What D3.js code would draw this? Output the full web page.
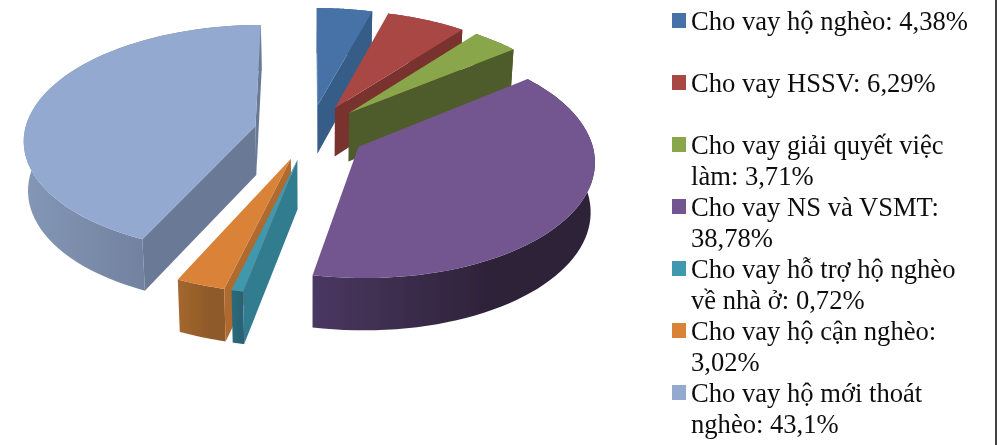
<!DOCTYPE html>
<html>
<head>
<meta charset="utf-8">
<script src="https://cdn.jsdelivr.net/npm/d3@7/dist/d3.min.js"></script>
<style>
  html, body { margin: 0; padding: 0; background: #fff; }
  svg { display: block; }
  .legend text { font-family: "Liberation Serif", serif; font-size: 26.6px; fill: #111; }
</style>
</head>
<body>
<div id="chart"></div>
<script>
const width = 1005;
const height = 445;

// percentages
const categories = ['Cho vay hộ nghèo', 'Cho vay HSSV', 'Cho vay giải quyết việc làm', 'Cho vay NS và VSMT',
  'Cho vay hỗ trợ hộ nghèo về nhà ở', 'Cho vay hộ cận nghèo', 'Cho vay hộ mới thoát nghèo'];
const values = [4.38, 6.29, 3.71, 38.78, 0.72, 3.02, 43.1];
const legendLines = [
  ['Cho vay hộ nghèo: 4,38%'],
  ['Cho vay HSSV: 6,29%'],
  ['Cho vay giải quyết việc', 'làm: 3,71%'],
  ['Cho vay NS và VSMT:', '38,78%'],
  ['Cho vay hỗ trợ hộ nghèo', 'về nhà ở: 0,72%'],
  ['Cho vay hộ cận nghèo:', '3,02%'],
  ['Cho vay hộ mới thoát', 'nghèo: 43,1%']
];
const topColors = ['#4672a8', '#a94644', '#89a64b', '#73568f', '#4198af', '#d98239', '#93a9d0'];
const faceColors = ['#355d87', '#7a302e', '#4e5c2a', '#45345a', '#327b8f', '#b06a2e', '#6b7a96'];
const wallLight = ['#355d87', '#7a302e', '#4e5c2a', '#4a3760', '#2c6b7c', '#a5672e', '#8497b6'];
const wallDark = ['#355d87', '#7a302e', '#4e5c2a', '#2d2238', '#2a6475', '#8f5a2a', '#6c7c99'];

const explode = 0.243;     // how far slices are pulled out, in radii
const perspective = 0.11;  // far side of the pie shrinks, near side grows
const depth = 49;
const lowerShrink = 0.985; // bottom face sits further from the eye

const svg = d3.select('#chart').append('svg')
  .attr('width', width)
  .attr('height', height);

const defs = svg.append('defs');
defs.append('filter').attr('id', 'soft')
  .append('feGaussianBlur').attr('stdDeviation', 0.4);

const x = d3.scaleLinear().domain([-1, 1]).range([310 - 231, 310 + 231]);
const y = d3.scaleLinear().domain([-1, 1]).range([132 + 113.5, 132 - 113.5]);

// ground plane -> screen, z = 1 is the far side of the pie
function project(gx, gz, lower) {
  const s = 1 / (1 + perspective * gz);
  const sx = lower ? gx * s * lowerShrink : gx * s;
  return [x(sx), y(gz * s) + (lower ? depth * (1 - 0.06 * gz) : 0)];
}

const pie = d3.pie().sort(null).value(d => d)(values);
const line = d3.line();
const order = [0, 1, 2, 6, 5, 4, 3];

const slices = svg.append('g').attr('class', 'slices').attr('filter', 'url(#soft)');

order.forEach(i => {
  const d = pie[i];
  const mid = (d.startAngle + d.endAngle) / 2;
  const ox = explode * Math.sin(mid);
  const oz = explode * Math.cos(mid);
  const at = (a, lower) => project(ox + Math.sin(a), oz + Math.cos(a), lower);
  const apex = lower => project(ox, oz, lower);
  const angles = d3.range(0, 61).map(k => d.startAngle + (d.endAngle - d.startAngle) * k / 60);

  const grad = defs.append('linearGradient').attr('id', `wall${i}`);
  grad.append('stop').attr('offset', 0).attr('stop-color', wallLight[i]);
  grad.append('stop').attr('offset', 0.65).attr('stop-color', wallDark[i]);
  grad.append('stop').attr('offset', 1).attr('stop-color', wallDark[i]);

  const g = slices.append('g');

  // outer wall
  g.append('path')
    .attr('d', line(angles.map(a => at(a, false)).concat(angles.slice().reverse().map(a => at(a, true)))) + 'Z')
    .attr('fill', `url(#wall${i})`);

  // a cut face shows only if its lower edge falls outside the slice top
  const a0 = apex(false);
  [[d.startAngle, d.endAngle], [d.endAngle, d.startAngle]].forEach(([edge, other]) => {
    const p = at(edge, false);
    const q = at(other, false);
    const inner = (p[0] - a0[0]) * (q[1] - a0[1]) - (p[1] - a0[1]) * (q[0] - a0[0]);
    const down = (p[0] - a0[0]) * depth;
    if (inner * down < 0) {
      g.append('path')
        .attr('d', line([a0, p, at(edge, true), apex(true)]) + 'Z')
        .attr('fill', faceColors[i]);
    }
  });

  // top
  g.append('path')
    .attr('d', line([a0].concat(angles.map(a => at(a, false)))) + 'Z')
    .attr('fill', topColors[i]);
});

// legend
const legend = svg.append('g').attr('class', 'legend').attr('filter', 'url(#soft)');
legendLines.forEach((lines, i) => {
  const item = legend.append('g').attr('transform', `translate(0,${30 + i * 62})`);
  item.append('rect')
    .attr('x', 672).attr('y', -17)
    .attr('width', 14).attr('height', 15)
    .attr('fill', topColors[i]);
  item.selectAll('text')
    .data(lines)
    .join('text')
      .attr('x', 691)
      .attr('y', (t, k) => k * 31)
      .text(t => t);
});

// edge of the scanned page
svg.append('line')
  .attr('x1', 996).attr('x2', 996)
  .attr('y1', 0).attr('y2', height)
  .attr('stroke', '#444')
  .attr('stroke-width', 2);
</script>
</body>
</html>
